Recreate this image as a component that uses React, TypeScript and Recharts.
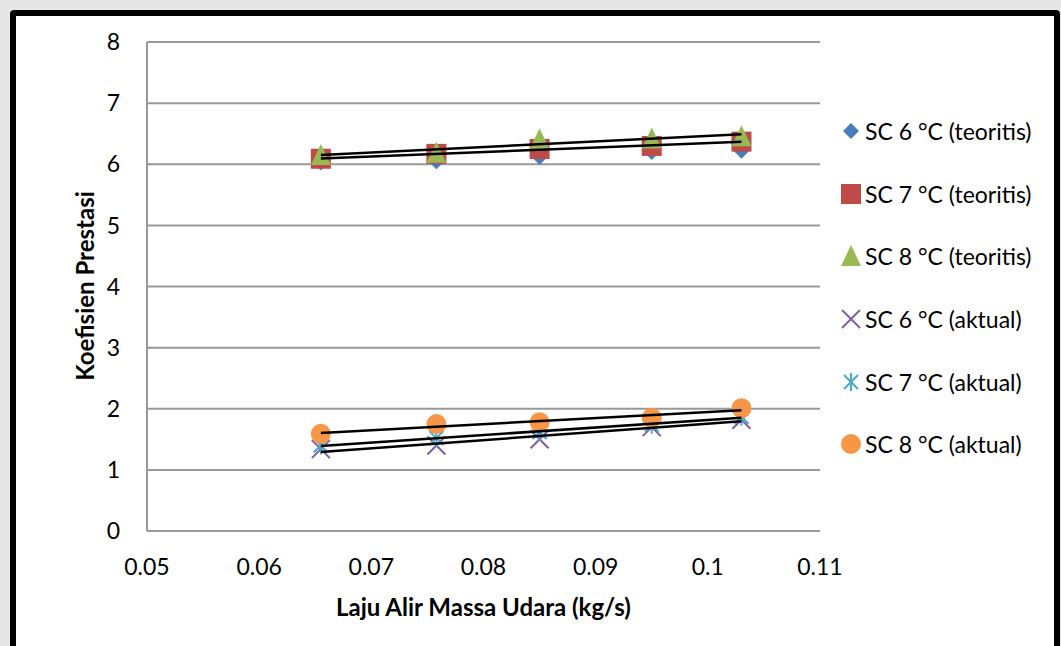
import React from "react";
import { ScatterChart, Scatter, XAxis, YAxis, CartesianGrid } from "recharts";

// mass flow rate of air (kg/s)
const massFlow = [0.0655, 0.0758, 0.085, 0.095, 0.103];

const sc6Teoritis = [6.03, 6.05, 6.12, 6.2, 6.22];
const sc7Teoritis = [6.09, 6.17, 6.25, 6.3, 6.37];
const sc8Teoritis = [6.15, 6.19, 6.41, 6.42, 6.46];
const sc6Aktual = [1.34, 1.4, 1.5, 1.7, 1.82];
const sc7Aktual = [1.4, 1.52, 1.62, 1.74, 1.87];
const sc8Aktual = [1.59, 1.75, 1.78, 1.85, 2.01];

const xTicks = [0.05, 0.06, 0.07, 0.08, 0.09, 0.1, 0.11];
const yTicks = [0, 1, 2, 3, 4, 5, 6, 7, 8];

const FONT = "Lato, 'Open Sans', sans-serif";

const toPoints = (ys: number[]) => massFlow.map((x, i) => ({ x, y: ys[i] }));

// least squares line through a series, evaluated at the first and last x
const trend = (ys: number[]) => {
  const n = massFlow.length;
  const mx = massFlow.reduce((a, b) => a + b, 0) / n;
  const my = ys.reduce((a, b) => a + b, 0) / n;
  let sxy = 0;
  let sxx = 0;
  massFlow.forEach((x, i) => {
    sxy += (x - mx) * (ys[i] - my);
    sxx += (x - mx) * (x - mx);
  });
  const slope = sxy / sxx;
  const x0 = massFlow[0];
  const x1 = massFlow[n - 1];
  return [
    { x: x0, y: my + slope * (x0 - mx) },
    { x: x1, y: my + slope * (x1 - mx) }
  ];
};

type ShapeProps = { cx?: number; cy?: number };

const Diamond = ({ cx = 0, cy = 0 }: ShapeProps) => (
  <polygon
    points={`${cx},${cy - 8} ${cx + 8},${cy} ${cx},${cy + 8} ${cx - 8},${cy}`}
    fill="#4a7ebb"
  />
);
const Square = ({ cx = 0, cy = 0 }: ShapeProps) => (
  <rect x={cx - 10} y={cy - 10} width={20} height={20} fill="#be4b48" />
);
const Triangle = ({ cx = 0, cy = 0 }: ShapeProps) => (
  <polygon
    points={`${cx},${cy - 11} ${cx + 10},${cy + 10} ${cx - 10},${cy + 10}`}
    fill="#98b954"
  />
);
const Cross = ({ cx = 0, cy = 0 }: ShapeProps) => (
  <g stroke="#7d60a0" strokeWidth={2}>
    <line x1={cx - 9} y1={cy - 9} x2={cx + 9} y2={cy + 9} />
    <line x1={cx - 9} y1={cy + 9} x2={cx + 9} y2={cy - 9} />
  </g>
);
const Asterisk = ({ cx = 0, cy = 0 }: ShapeProps) => (
  <g stroke="#46aac5" strokeWidth={2}>
    <line x1={cx - 7} y1={cy - 7} x2={cx + 7} y2={cy + 7} />
    <line x1={cx - 7} y1={cy + 7} x2={cx + 7} y2={cy - 7} />
    <line x1={cx} y1={cy - 9} x2={cx} y2={cy + 9} />
  </g>
);
const Circle = ({ cx = 0, cy = 0 }: ShapeProps) => (
  <circle cx={cx} cy={cy} r={10} fill="#f79646" />
);
const NoDot = () => <g />;

const series = [
  { name: "SC 6 °C (teoritis)", data: sc6Teoritis, Shape: Diamond },
  { name: "SC 7 °C (teoritis)", data: sc7Teoritis, Shape: Square },
  { name: "SC 8 °C (teoritis)", data: sc8Teoritis, Shape: Triangle },
  { name: "SC 6 °C (aktual)", data: sc6Aktual, Shape: Cross },
  { name: "SC 7 °C (aktual)", data: sc7Aktual, Shape: Asterisk },
  { name: "SC 8 °C (aktual)", data: sc8Aktual, Shape: Circle }
];

const trendSeries = [sc7Teoritis, sc8Teoritis, sc6Aktual, sc7Aktual, sc8Aktual];

const LegendBox = () => (
  <div
    style={{
      position: "absolute",
      left: 840,
      top: 100,
      fontFamily: FONT,
      fontSize: 23,
      color: "#000"
    }}
  >
    {series.map(({ name, Shape }) => (
      <div
        key={name}
        style={{ display: "flex", alignItems: "center", height: 62.6, whiteSpace: "nowrap" }}
      >
        <svg width={22} height={22} style={{ marginRight: 3 }}>
          <Shape cx={11} cy={11} />
        </svg>
        <span>{name}</span>
      </div>
    ))}
  </div>
);

const App = () => (
  <div
    style={{
      position: "absolute",
      left: 0,
      top: 0,
      width: 1061,
      height: 646,
      background: "#e6e6e6",
      overflow: "hidden"
    }}
  >
    <div
      style={{
        position: "absolute",
        left: 10,
        top: 10,
        width: 1038,
        height: 700,
        background: "#fff",
        border: "6px solid #000",
        borderRadius: 4
      }}
    />
    <div style={{ position: "absolute", left: 0, top: 0 }}>
      <ScatterChart
        width={1061}
        height={646}
        margin={{ top: 42, right: 241, bottom: 85, left: 87 }}
      >
        <CartesianGrid
          vertical={false}
          stroke="#999"
          strokeWidth={2}
          horizontalValues={yTicks}
        />
        <XAxis
          type="number"
          dataKey="x"
          domain={[0.05, 0.11]}
          ticks={xTicks}
          tickFormatter={(v: number) => String(Number(v.toFixed(2)))}
          height={30}
          stroke="#999"
          strokeWidth={2}
          tickLine={false}
          tickSize={0}
          tickMargin={28}
          tick={{ fill: "#000", fontSize: 23, fontFamily: FONT }}
          allowDataOverflow
        />
        <YAxis
          type="number"
          dataKey="y"
          domain={[0, 8]}
          ticks={yTicks}
          width={60}
          stroke="#999"
          strokeWidth={2}
          tickLine={false}
          tickSize={0}
          tickMargin={27}
          tick={{ fill: "#000", fontSize: 23, fontFamily: FONT }}
        />
        {series.map(({ name, data, Shape }) => (
          <Scatter
            key={name}
            name={name}
            data={toPoints(data)}
            shape={(p: ShapeProps) => <Shape cx={p.cx} cy={p.cy} />}
            isAnimationActive={false}
          />
        ))}
        {trendSeries.map((ys, i) => (
          <Scatter
            key={`trend-${i}`}
            data={trend(ys)}
            line={{ stroke: "#000", strokeWidth: 2.5 }}
            shape={NoDot}
            legendType="none"
            isAnimationActive={false}
          />
        ))}
      </ScatterChart>
    </div>
    <LegendBox />
    <div
      style={{
        position: "absolute",
        left: 147,
        width: 673,
        top: 592,
        textAlign: "center",
        fontFamily: FONT,
        fontWeight: "bold",
        fontSize: 24
      }}
    >
      Laju Alir Massa Udara (kg/s)
    </div>
    <div
      style={{
        position: "absolute",
        left: 84,
        top: 286,
        transform: "translate(-50%, -50%) rotate(-90deg)",
        whiteSpace: "nowrap",
        fontFamily: FONT,
        fontWeight: "bold",
        fontSize: 24
      }}
    >
      Koefisien Prestasi
    </div>
  </div>
);

export default App;
